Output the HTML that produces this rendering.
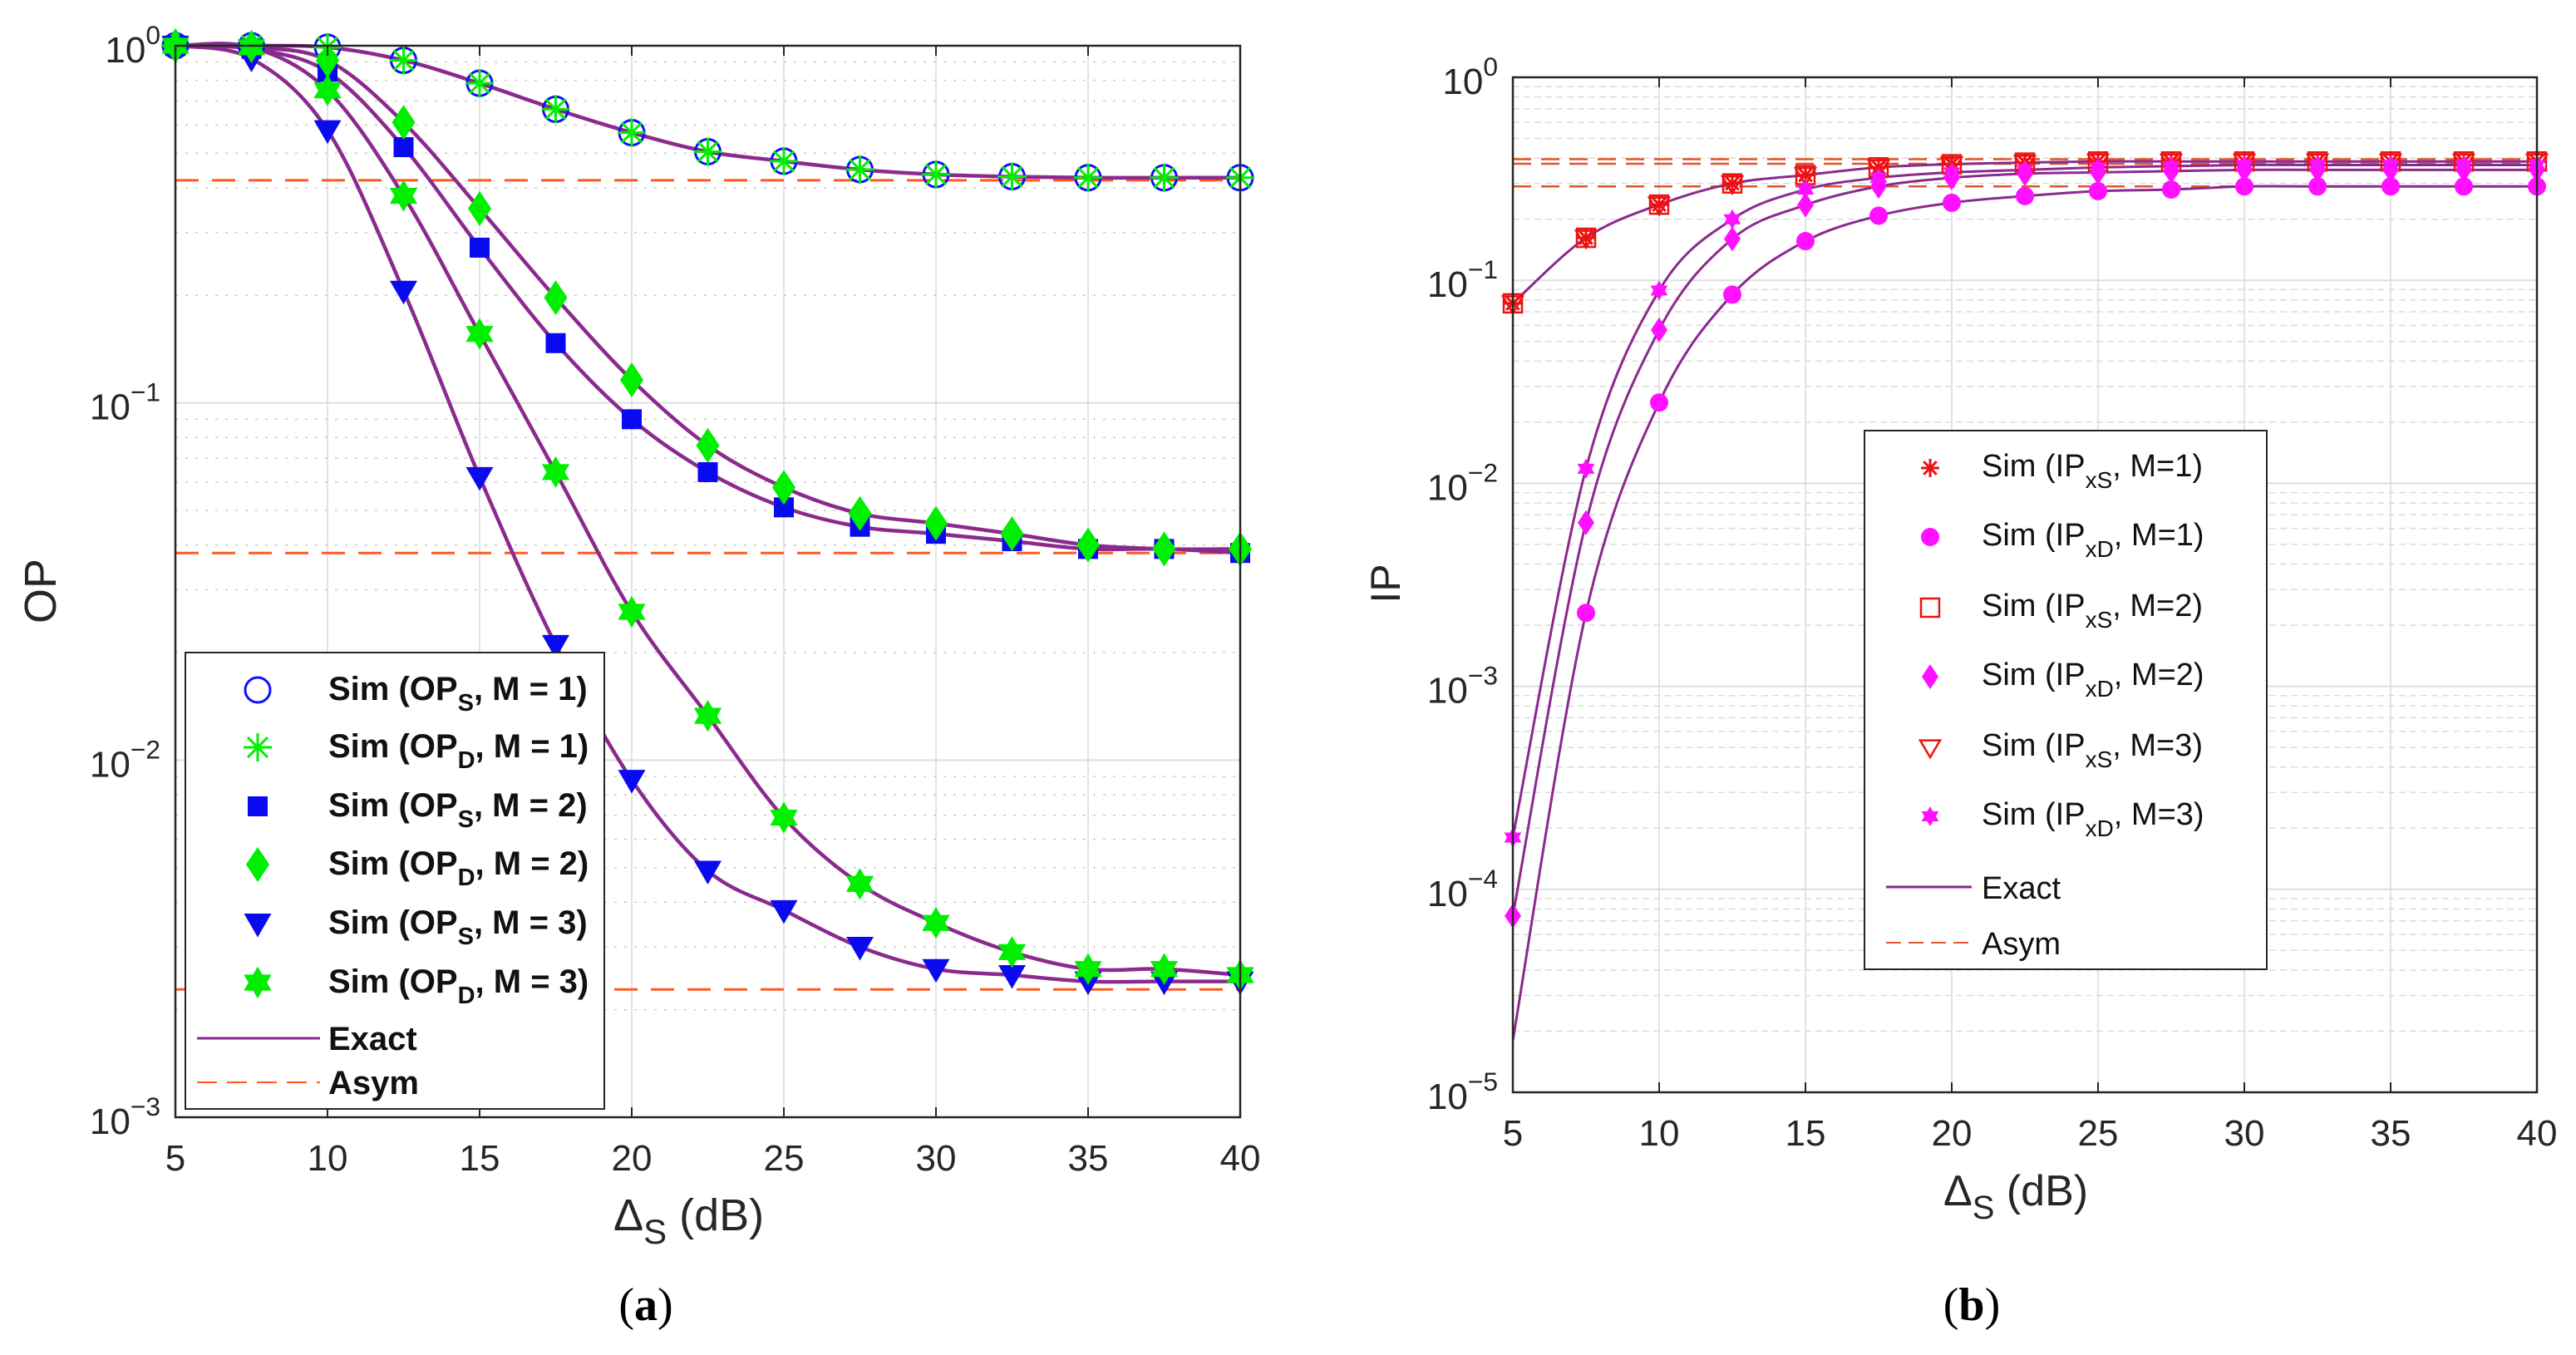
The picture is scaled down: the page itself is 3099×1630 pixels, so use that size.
<!DOCTYPE html>
<html><head><meta charset="utf-8"><style>
html,body{margin:0;padding:0;background:#fff;}
svg{display:block;font-family:"Liberation Sans",sans-serif;}
</style></head><body>
<svg id="fig" width="3099" height="1630" viewBox="0 0 3099 1630" xmlns="http://www.w3.org/2000/svg">
<g id="pa"></g>
<g id="pb"></g>
</svg>
<script>
// ---------- data ----------
const xs = [5,7.5,10,12.5,15,17.5,20,22.5,25,27.5,30,32.5,35,37.5,40];
const opM1 = [1,1,0.99,0.91,0.785,0.664,0.571,0.505,0.475,0.45,0.436,0.43,0.427,0.427,0.427];
const opSM2 = [1,0.98,0.845,0.52,0.272,0.147,0.09,0.064,0.051,0.045,0.043,0.041,0.039,0.039,0.038];
const opDM2 = [1,0.99,0.91,0.61,0.35,0.197,0.116,0.076,0.058,0.049,0.046,0.043,0.040,0.039,0.039];
const opSM3 = [1,0.92,0.58,0.206,0.062,0.021,0.0088,0.0049,0.0038,0.003,0.0026,0.0025,0.0024,0.0024,0.0024];
const opDM3 = [1,0.99,0.75,0.38,0.156,0.064,0.026,0.0133,0.0069,0.0045,0.0035,0.0029,0.0026,0.0026,0.0025];
const opAsym = [0.42,0.038,0.00228];
const ipxS = [0.077,0.162,0.236,0.30,0.33,0.36,0.373,0.38,0.385,0.385,0.385,0.385,0.385,0.385,0.385];
const ipxDM1 = [0.000018,0.0023,0.025,0.085,0.156,0.208,0.241,0.26,0.275,0.28,0.29,0.29,0.29,0.29,0.29];
const ipxDM2 = [0.000074,0.0064,0.057,0.16,0.235,0.29,0.32,0.335,0.34,0.345,0.35,0.35,0.35,0.35,0.35];
const ipxDM3 = [0.00018,0.0118,0.089,0.2,0.28,0.32,0.34,0.35,0.36,0.365,0.37,0.37,0.37,0.37,0.37];
const ipAsym = [0.395,0.375,0.29];
const xTicks = [5,10,15,20,25,30,35,40];

const NS="http://www.w3.org/2000/svg";
function mk(parent,tag,attrs){const e=document.createElementNS(NS,tag);for(const k in attrs)e.setAttribute(k,attrs[k]);parent.appendChild(e);return e;}
const PURPLE="#8a2a8e", ORANGE="#ff5a1e";

function makeAxes(L,R,T,B,decTop,decBot){
  const sx=x=>L+(x-5)/35*(R-L);
  const sy=v=>T+(decTop-Math.log10(v))/(decTop-decBot)*(B-T);
  return {sx,sy};
}
function curvePath(ax,vals){
  const P=xs.map((x,i)=>[ax.sx(x),ax.sy(vals[i])]);
  let d=`M${P[0][0]},${P[0][1]}`;
  for(let i=0;i<P.length-1;i++){
    const p0=P[Math.max(0,i-1)],p1=P[i],p2=P[i+1],p3=P[Math.min(P.length-1,i+2)];
    const c1=[p1[0]+(p2[0]-p0[0])/6,p1[1]+(p2[1]-p0[1])/6];
    const c2=[p2[0]-(p3[0]-p1[0])/6,p2[1]-(p3[1]-p1[1])/6];
    d+=` C${c1[0]},${c1[1]} ${c2[0]},${c2[1]} ${p2[0]},${p2[1]}`;
  }
  return d;
}
function marker(g,type,x,y,s,color){
  let e;
  if(type==="circle") e=mk(g,"circle",{cx:x,cy:y,r:s,fill:"none",stroke:color,"stroke-width":3});
  else if(type==="fcircle") e=mk(g,"circle",{cx:x,cy:y,r:s,fill:color});
  else if(type==="square") e=mk(g,"rect",{x:x-s,y:y-s,width:2*s,height:2*s,fill:color});
  else if(type==="osquare") e=mk(g,"rect",{x:x-s,y:y-s,width:2*s,height:2*s,fill:"none",stroke:color,"stroke-width":2.5});
  else if(type==="diamond") e=mk(g,"polygon",{points:`${x},${y-s*1.5} ${x+s},${y} ${x},${y+s*1.5} ${x-s},${y}`,fill:color});
  else if(type==="tri") e=mk(g,"polygon",{points:`${x-s*1.1},${y-s*0.8} ${x+s*1.1},${y-s*0.8} ${x},${y+s*1.1}`,fill:color});
  else if(type==="otri") e=mk(g,"polygon",{points:`${x-s},${y-s*0.7} ${x+s},${y-s*0.7} ${x},${y+s}`,fill:"none",stroke:color,"stroke-width":2.5});
  else if(type==="hex"){const a=s*1.2;e=mk(g,"g",{});
    mk(e,"polygon",{points:`${x},${y-a} ${x+a*0.866},${y+a/2} ${x-a*0.866},${y+a/2}`,fill:color});
    mk(e,"polygon",{points:`${x},${y+a} ${x+a*0.866},${y-a/2} ${x-a*0.866},${y-a/2}`,fill:color});}
  else if(type==="star"){e=mk(g,"g",{});
    for(let k=0;k<4;k++){const an=k*Math.PI/4;mk(e,"line",{x1:x-s*Math.cos(an),y1:y-s*Math.sin(an),x2:x+s*Math.cos(an),y2:y+s*Math.sin(an),stroke:color,"stroke-width":3});}}
  return e;
}
function grid(g,ax,L,R,T,B,decTop,decBot,dash,mcol){
  for(const t of xTicks){const x=ax.sx(t);const l=mk(g,"line",{x1:x,y1:T,x2:x,y2:B,stroke:"#e3e3e3","stroke-width":2});
    }
  for(let d=decBot;d<=decTop;d++){
    const y=ax.sy(Math.pow(10,d));mk(g,"line",{x1:L,y1:y,x2:R,y2:y,stroke:"#dedede","stroke-width":2});
    if(d<decTop)for(let m=2;m<=9;m++){const yy=ax.sy(m*Math.pow(10,d));
      mk(g,"line",{x1:L,y1:yy,x2:R,y2:yy,stroke:mcol,"stroke-width":1.5,"stroke-dasharray":dash});}
  }
}
function frame(g,ax,L,R,T,B,decTop,decBot,fs,ty){
  const f=mk(g,"rect",{x:L,y:T,width:R-L,height:B-T,fill:"none",stroke:"#262626","stroke-width":2.5});
  
  for(const t of xTicks){const x=ax.sx(t);
    mk(g,"line",{x1:x,y1:B,x2:x,y2:B-12,stroke:"#262626","stroke-width":2});
    mk(g,"line",{x1:x,y1:T,x2:x,y2:T+12,stroke:"#262626","stroke-width":2});
    const tx=mk(g,"text",{x:x,y:ty,"font-size":fs,"text-anchor":"middle",fill:"#262626"});tx.textContent=t;
    }
  for(let d=decBot;d<=decTop;d++){const y=ax.sy(Math.pow(10,d));
    const tx=mk(g,"text",{x:L-18,y:y+20,"font-size":fs,"text-anchor":"end",fill:"#262626"});
    tx.textContent="10";const ts=mk(tx,"tspan",{dy:-22,"font-size":fs*0.72});ts.textContent=d===0?"0":"\u2212"+(-d);
    }
}

// ---------- Panel A ----------
(function(){
  const g=document.getElementById("pa");
  const L=211,R=1492,T=55,B=1344;
  const ax=makeAxes(L,R,T,B,0,-3);
  grid(g,ax,L,R,T,B,0,-3,"3 9","#c8c8c8");
  opAsym.forEach(v=>{const l=mk(g,"line",{x1:L,y1:ax.sy(v),x2:R,y2:ax.sy(v),stroke:ORANGE,"stroke-width":3,"stroke-dasharray":"28 16"});
    });
  [opM1,opSM2,opDM2,opSM3,opDM3].forEach(v=>{const p=mk(g,"path",{d:curvePath(ax,v),fill:"none",stroke:PURPLE,"stroke-width":4.5});
    });
  const series=[[opM1,"circle",15,"#1010ff"],[opM1,"star",17,"#00ee00"],[opSM2,"square",12,"#0a0aee"],[opDM2,"diamond",14,"#00ee00"],[opSM3,"tri",15,"#0a0aee"],[opDM3,"hex",16,"#00ee00"]];
  series.forEach(s=>xs.forEach((x,i)=>{const m=marker(g,s[1],ax.sx(x),ax.sy(s[0][i]),s[2],s[3]);
    }));
  frame(g,ax,L,R,T,B,0,-3,44,1408);
  const lg=mk(g,"g",{});
  mk(lg,"rect",{x:223,y:785,width:504,height:549,fill:"#fff",stroke:"#262626","stroke-width":2});
  const labs=[["S","1"],["D","1"],["S","2"],["D","2"],["S","3"],["D","3"]];
  const rowY=[830,899,970,1040,1111,1182];
  labs.forEach((lb,i)=>{const y=rowY[i];const s=series[i];marker(lg,s[1],310,y,s[2],s[3]);
    const t=mk(lg,"text",{x:395,y:y+12,"font-size":40,"font-weight":"bold",fill:"#111"});
    t.textContent="Sim (OP";const sb=mk(t,"tspan",{dy:13,"font-size":29});sb.textContent=lb[0];
    const r=mk(t,"tspan",{dy:-13});r.textContent=", M = "+lb[1]+")";
    });
  mk(lg,"line",{x1:237,y1:1249,x2:385,y2:1249,stroke:PURPLE,"stroke-width":3});
  let t=mk(lg,"text",{x:395,y:1263,"font-size":40,"font-weight":"bold",fill:"#111"});t.textContent="Exact";
  mk(lg,"line",{x1:237,y1:1302,x2:385,y2:1302,stroke:ORANGE,"stroke-width":2,"stroke-dasharray":"24 12"});
  t=mk(lg,"text",{x:395,y:1316,"font-size":40,"font-weight":"bold",fill:"#111"});t.textContent="Asym";
  const yl=mk(g,"text",{x:67,y:711,"font-size":54,fill:"#262626","text-anchor":"middle",transform:"rotate(-90 67 711)"});yl.textContent="OP";
  
  const xl=mk(g,"text",{x:738,y:1480,"font-size":54,fill:"#262626"});xl.textContent="\u0394";
  const s1=mk(xl,"tspan",{dy:16,"font-size":42});s1.textContent="S";const s2=mk(xl,"tspan",{dy:-16});s2.textContent=" (dB)";
  
  const cap=mk(g,"text",{x:777,y:1588,"font-size":56,"font-family":"Liberation Serif,serif","text-anchor":"middle",fill:"#000"});
  cap.textContent="(";const cb=mk(cap,"tspan",{"font-weight":"bold"});cb.textContent="a";const c2=mk(cap,"tspan",{});c2.textContent=")";
  
})();

// ---------- Panel B ----------
(function(){
  const g=document.getElementById("pb");
  const L=1820,R=3052,T=93,B=1314;
  const ax=makeAxes(L,R,T,B,0,-5);
  grid(g,ax,L,R,T,B,0,-5,"8 5","#dcdcdc");
  ipAsym.forEach(v=>{const l=mk(g,"line",{x1:L,y1:ax.sy(v),x2:R,y2:ax.sy(v),stroke:"#e0552a","stroke-width":2.5,"stroke-dasharray":"22 12"});
    });
  [ipxS,ipxDM1,ipxDM2,ipxDM3].forEach(v=>{const p=mk(g,"path",{d:curvePath(ax,v),fill:"none",stroke:PURPLE,"stroke-width":3});
    });
  const series=[[ipxS,"star",11,"#ee1111"],[ipxDM1,"fcircle",11,"#ff11ff"],[ipxS,"osquare",11,"#ee1111"],[ipxDM2,"diamond",10,"#ff11ff"],[ipxS,"otri",12,"#ee1111"],[ipxDM3,"hex",10,"#ff11ff"]];
  series.forEach((s,si)=>xs.forEach((x,i)=>{if(si===1&&i===0)return;
    const m=marker(g,s[1],ax.sx(x),ax.sy(s[0][i]),s[2],s[3]);
    }));
  frame(g,ax,L,R,T,B,0,-5,44,1378);
  const lg=mk(g,"g",{});
  mk(lg,"rect",{x:2243,y:518,width:484,height:648,fill:"#fff",stroke:"#262626","stroke-width":2});
  const labs=[["xS","1"],["xD","1"],["xS","2"],["xD","2"],["xS","3"],["xD","3"]];
  const rowY=[563,646,731,814,899,982];
  labs.forEach((lb,i)=>{const y=rowY[i];const s=series[i];marker(lg,s[1],2322,y,s[2],s[3]);
    const t=mk(lg,"text",{x:2384,y:y+10,"font-size":38,fill:"#111"});
    t.textContent="Sim (IP";const sb=mk(t,"tspan",{dy:14,"font-size":28});sb.textContent=lb[0];
    const r=mk(t,"tspan",{dy:-14});r.textContent=", M="+lb[1]+")";
    });
  mk(lg,"line",{x1:2269,y1:1067,x2:2372,y2:1067,stroke:PURPLE,"stroke-width":3});
  let t=mk(lg,"text",{x:2384,y:1081,"font-size":38,fill:"#111"});t.textContent="Exact";
  mk(lg,"line",{x1:2269,y1:1134,x2:2372,y2:1134,stroke:"#e0552a","stroke-width":2,"stroke-dasharray":"18 9"});
  t=mk(lg,"text",{x:2384,y:1148,"font-size":38,fill:"#111"});t.textContent="Asym";
  const yl=mk(g,"text",{x:1684,y:702,"font-size":50,fill:"#262626","text-anchor":"middle",transform:"rotate(-90 1684 702)"});yl.textContent="IP";
  
  const xl=mk(g,"text",{x:2338,y:1450,"font-size":52,fill:"#262626"});xl.textContent="\u0394";
  const s1=mk(xl,"tspan",{dy:16,"font-size":40});s1.textContent="S";const s2=mk(xl,"tspan",{dy:-16});s2.textContent=" (dB)";
  
  const cap=mk(g,"text",{x:2372,y:1588,"font-size":56,"font-family":"Liberation Serif,serif","text-anchor":"middle",fill:"#000"});
  cap.textContent="(";const cb=mk(cap,"tspan",{"font-weight":"bold"});cb.textContent="b";const c2=mk(cap,"tspan",{});c2.textContent=")";
  
})();
</script>
</body></html>
